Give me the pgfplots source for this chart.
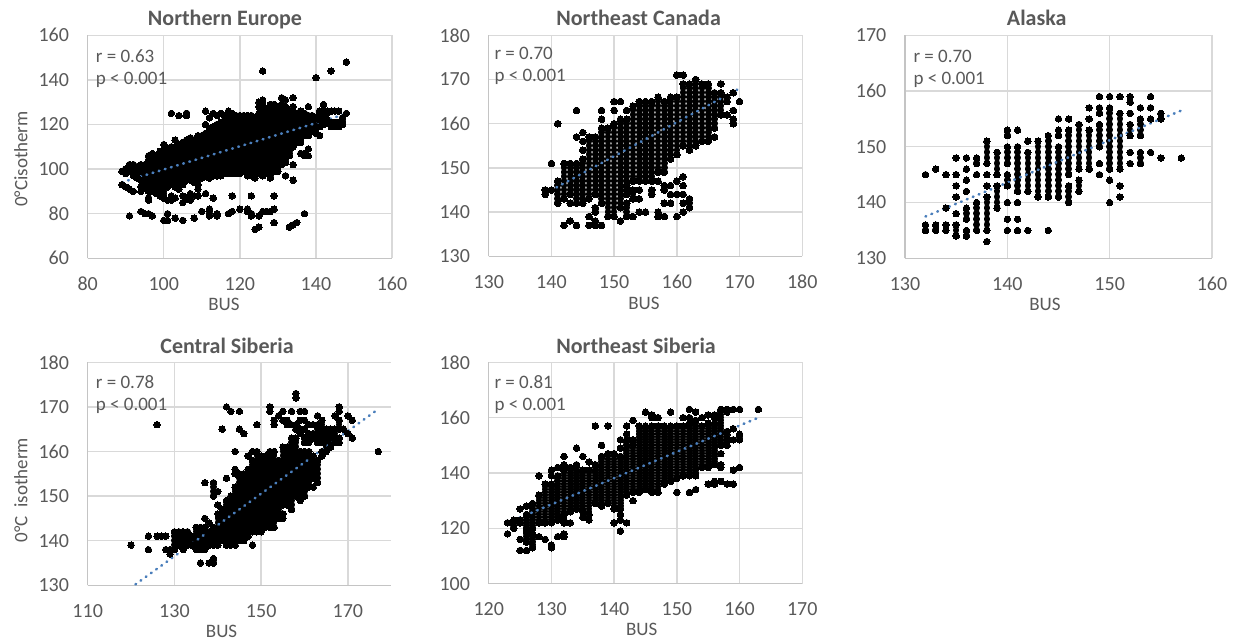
\documentclass[border=0pt]{standalone}
\usepackage{fontspec}
\setmainfont{Carlito}
\usepackage{pgfplots}
\usepackage{pgfplotstable}
\pgfplotsset{compat=1.18}
\definecolor{tx}{HTML}{595959}
\definecolor{gr}{HTML}{D9D9D9}
\definecolor{ax}{HTML}{C4C4C4}
\definecolor{tr}{HTML}{4A7EBB}
% each row: x, lowest y, highest y of a run of points at whole-number y
\pgfplotstableread[row sep=\\]{x lo hi\\
89 99 99\\ 89 93 93\\ 90 98 100\\ 90 92 92\\ 91 99 102\\ 91 91 91\\ 91 79 79\\ 92 97 102\\ 92 90 90\\ 93 96 101\\ 94 95 102\\ 94 90 92\\ 94 81 81\\ 95 92 102\\ 95 80 80\\ 96 106 106\\ 96 90 104\\ 96 86 87\\ 96 80 80\\ 97 107 107\\ 97 90 104\\ 97 79 79\\ 98 91 106\\ 98 89 89\\ 99 88 108\\ 100 87 111\\ 100 77 77\\ 101 92 109\\ 101 86 86\\ 101 80 80\\ 101 77 77\\ 102 125 125\\ 102 93 110\\ 102 88 88\\ 102 86 86\\ 103 113 113\\ 103 92 110\\ 103 87 87\\ 103 78 78\\ 104 124 124\\ 104 91 111\\ 105 93 112\\ 105 88 88\\ 105 85 85\\ 105 77 77\\ 106 124 125\\ 106 95 113\\ 106 87 87\\ 107 95 114\\ 107 89 89\\ 107 86 86\\ 108 94 113\\ 108 88 88\\ 108 78 78\\ 109 93 115\\ 109 91 91\\ 109 88 88\\ 110 96 115\\ 110 81 81\\
111 126 126\\ 111 120 120\\ 111 97 116\\ 111 89 89\\ 112 123 123\\ 112 96 118\\ 112 79 82\\ 113 125 125\\ 113 97 119\\ 113 87 87\\ 114 124 124\\ 114 97 120\\ 114 79 80\\ 115 125 125\\ 115 97 121\\ 116 124 124\\ 116 98 122\\ 117 126 126\\ 117 98 123\\ 117 80 80\\ 118 125 125\\ 118 98 123\\ 118 88 88\\ 118 81 81\\ 119 98 124\\ 120 98 124\\ 120 82 82\\ 121 99 124\\ 122 97 124\\ 122 81 82\\ 123 97 124\\ 123 88 88\\ 123 79 80\\ 124 96 123\\ 124 73 73\\ 125 130 130\\ 125 128 128\\ 125 98 125\\ 125 79 79\\ 125 74 74\\ 126 144 144\\ 126 131 131\\ 126 129 129\\ 126 97 126\\ 126 81 81\\ 127 98 127\\ 127 81 81\\ 128 129 129\\ 128 96 127\\ 128 81 81\\ 129 99 129\\ 129 88 88\\ 129 82 82\\ 129 76 76\\ 130 99 128\\ 131 132 132\\ 131 102 129\\ 132 131 131\\ 132 103 128\\ 132 97 97\\ 133 106 126\\ 133 74 74\\ 134 132 132\\ 134 128 128\\ 134 110 126\\ 134 102 102\\ 134 95 95\\ 134 75 75\\ 135 112 125\\ 135 76 76\\ 136 112 126\\ 136 107 107\\ 137 115 125\\ 137 106 107\\ 137 80 80\\ 138 128 128\\ 138 115 124\\ 138 109 109\\ 138 106 106\\ 139 117 124\\ 140 141 141\\ 140 118 123\\ 140 116 116\\ 141 119 122\\ 141 125 126\\ 141 115 115\\ 142 129 129\\ 142 125 126\\ 142 120 122\\ 143 125 126\\ 143 121 122\\ 144 144 144\\ 144 126 126\\ 144 119 121\\ 145 126 126\\ 145 119 121\\ 146 126 126\\ 146 119 121\\ 147 120 123\\ 148 148 148\\ 148 125 125\\
}\tabA
\pgfplotstableread[row sep=\\]{x lo hi\\
139 144 145\\ 140 151 151\\ 140 145 145\\ 141 160 160\\ 141 142 147\\ 142 143 151\\ 142 137 137\\ 143 144 151\\ 143 142 142\\ 143 138 138\\ 144 163 163\\ 144 157 157\\ 144 142 151\\ 144 137 137\\ 145 158 158\\ 145 156 156\\ 145 154 154\\ 145 142 152\\ 146 143 157\\ 146 139 139\\ 146 137 137\\ 147 144 157\\ 147 140 141\\ 147 137 138\\ 148 163 163\\ 148 161 161\\ 148 142 159\\ 148 137 137\\ 149 139 159\\ 150 165 165\\ 150 163 163\\ 150 139 160\\ 151 165 165\\ 151 141 161\\ 151 138 138\\ 152 163 163\\ 152 146 161\\ 152 144 145\\ 152 139 142\\ 153 147 164\\ 153 143 145\\ 153 139 139\\ 154 147 165\\ 154 145 145\\ 154 143 143\\ 154 140 140\\ 155 147 165\\ 155 140 140\\ 156 147 165\\ 156 144 145\\ 157 149 166\\ 157 147 147\\ 157 139 140\\ 158 149 165\\ 158 145 146\\ 158 142 142\\ 158 139 139\\ 159 152 166\\ 159 146 146\\ 159 144 144\\ 159 142 142\\ 160 171 171\\ 160 153 166\\ 160 147 147\\ 160 144 144\\ 160 139 139\\ 161 171 171\\ 161 155 169\\ 161 148 148\\ 161 146 146\\ 161 144 144\\ 161 142 142\\ 161 140 140\\ 162 154 169\\ 162 141 143\\ 163 155 170\\ 164 156 169\\ 165 156 169\\ 166 159 167\\ 166 157 157\\ 167 162 167\\ 167 169 169\\ 168 165 166\\ 168 162 162\\ 169 167 167\\ 169 163 163\\ 169 160 161\\ 170 165 165\\
}\tabB
\pgfplotstableread[row sep=\\]{x lo hi\\
132 145 145\\ 132 135 136\\ 133 146 146\\ 133 135 136\\ 134 145 145\\ 134 139 139\\ 134 135 136\\ 135 148 148\\ 135 145 145\\ 135 143 143\\ 135 141 141\\ 135 138 138\\ 135 134 136\\ 136 148 148\\ 136 146 146\\ 136 144 144\\ 136 142 142\\ 136 137 139\\ 136 134 135\\ 137 147 148\\ 137 145 145\\ 137 135 140\\ 138 147 151\\ 138 145 145\\ 138 143 143\\ 138 135 141\\ 138 133 133\\ 139 145 149\\ 139 139 143\\ 140 152 153\\ 140 147 150\\ 140 143 145\\ 140 140 140\\ 140 137 137\\ 140 135 135\\ 141 153 153\\ 141 142 150\\ 141 140 140\\ 141 137 137\\ 141 135 135\\ 142 151 151\\ 142 142 149\\ 142 135 135\\ 143 141 151\\ 144 141 152\\ 144 135 135\\ 145 155 155\\ 145 152 153\\ 145 141 150\\ 146 155 155\\ 146 145 153\\ 146 140 143\\ 147 146 154\\ 147 142 144\\ 148 157 157\\ 148 155 155\\ 148 146 153\\ 149 159 159\\ 149 156 157\\ 149 150 154\\ 149 147 147\\ 149 145 145\\ 150 159 159\\ 150 146 157\\ 150 144 144\\ 150 140 140\\ 151 159 159\\ 151 146 156\\ 151 143 143\\ 151 141 141\\ 152 158 159\\ 152 156 156\\ 152 152 154\\ 152 149 149\\ 152 147 147\\ 153 157 157\\ 153 152 155\\ 153 147 149\\ 154 159 159\\ 154 157 157\\ 154 155 155\\ 154 149 149\\ 155 155 156\\ 155 148 148\\ 157 148 148\\
}\tabC
\pgfplotstableread[row sep=\\]{x lo hi\\
120 139 139\\ 124 141 141\\ 124 138 138\\ 126 166 166\\ 126 141 141\\ 127 141 141\\ 128 141 141\\ 128 138 138\\ 129 137 138\\ 130 138 142\\ 131 139 142\\ 132 138 142\\ 133 139 142\\ 134 139 141\\ 135 138 143\\ 136 138 143\\ 136 135 135\\ 137 153 153\\ 137 145 145\\ 137 138 143\\ 138 144 144\\ 138 139 142\\ 138 135 135\\ 139 150 153\\ 139 139 143\\ 139 135 136\\ 140 151 151\\ 140 148 148\\ 140 139 146\\ 141 165 165\\ 141 140 147\\ 142 170 170\\ 142 154 154\\ 142 139 149\\ 143 169 169\\ 143 139 150\\ 144 160 160\\ 144 155 156\\ 144 139 152\\ 145 169 169\\ 145 165 165\\ 145 140 155\\ 146 164 164\\ 146 140 155\\ 147 159 159\\ 147 141 156\\ 148 160 160\\ 148 142 158\\ 148 139 139\\ 149 166 166\\ 149 142 160\\ 150 142 159\\ 151 143 159\\ 152 169 170\\ 152 143 160\\ 153 166 167\\ 153 143 160\\ 154 168 168\\ 154 145 158\\ 155 169 169\\ 155 167 167\\ 155 148 161\\ 155 145 146\\ 156 166 167\\ 156 148 161\\ 157 169 169\\ 157 166 166\\ 157 147 163\\ 158 172 173\\ 158 165 166\\ 158 150 163\\ 159 169 169\\ 159 167 167\\ 159 164 165\\ 159 149 160\\ 160 169 169\\ 160 167 167\\ 160 165 165\\ 160 162 163\\ 160 150 160\\ 161 166 166\\ 161 162 164\\ 161 152 160\\ 162 166 166\\ 162 163 164\\ 162 154 159\\ 162 152 152\\ 163 168 168\\ 163 162 166\\ 163 153 158\\ 164 162 167\\ 164 159 160\\ 165 160 165\\ 166 161 165\\ 167 168 168\\ 167 162 165\\ 168 169 170\\ 168 165 167\\ 168 162 163\\ 169 165 165\\ 170 168 168\\ 170 164 164\\ 171 167 167\\ 171 163 163\\ 177 160 160\\
}\tabD
\pgfplotstableread[row sep=\\]{x lo hi\\
123 122 122\\ 123 118 118\\ 124 120 123\\ 125 127 127\\ 125 122 123\\ 125 116 116\\ 125 112 112\\ 126 128 128\\ 126 120 125\\ 126 115 119\\ 126 112 112\\ 127 120 129\\ 127 113 118\\ 128 139 139\\ 128 122 132\\ 128 117 117\\ 129 122 136\\ 129 116 116\\ 130 141 141\\ 130 139 139\\ 130 122 136\\ 130 113 114\\ 131 142 142\\ 131 123 139\\ 131 117 117\\ 132 146 146\\ 132 143 143\\ 132 125 141\\ 132 122 123\\ 132 117 118\\ 133 126 142\\ 133 122 122\\ 134 149 149\\ 134 127 143\\ 135 146 146\\ 135 126 141\\ 135 124 124\\ 136 144 144\\ 136 125 141\\ 136 123 123\\ 137 157 157\\ 137 129 143\\ 138 150 150\\ 138 128 146\\ 139 157 157\\ 139 129 147\\ 140 127 147\\ 140 122 122\\ 141 152 152\\ 141 149 149\\ 141 127 146\\ 141 125 125\\ 141 123 123\\ 141 119 119\\ 142 157 157\\ 142 154 154\\ 142 132 152\\ 142 122 122\\ 143 159 159\\ 143 152 152\\ 143 133 150\\ 143 130 130\\ 144 133 157\\ 145 162 162\\ 145 134 157\\ 146 160 161\\ 146 133 157\\ 147 160 160\\ 147 133 157\\ 148 136 157\\ 149 162 162\\ 149 137 157\\ 150 138 157\\ 150 133 133\\ 151 160 160\\ 151 139 157\\ 152 163 163\\ 152 160 160\\ 152 139 158\\ 152 133 133\\ 153 162 162\\ 153 139 159\\ 153 134 134\\ 154 160 160\\ 154 142 157\\ 155 161 161\\ 155 142 158\\ 155 136 136\\ 156 160 161\\ 156 143 158\\ 156 136 137\\ 157 150 163\\ 157 147 147\\ 157 142 143\\ 157 137 137\\ 158 162 163\\ 158 154 155\\ 158 152 152\\ 158 150 150\\ 158 136 136\\ 159 163 163\\ 159 156 156\\ 159 152 152\\ 159 141 141\\ 159 136 136\\ 160 163 163\\ 160 152 154\\ 160 142 142\\ 163 163 163\\
}\tabE
% #1 table, #2 one y unit in pt, #3 dot diameter in pt
\newcommand{\scat}[3]{\addplot[only marks,mark=*,mark size=#3/2*1pt,color=black,mark options={line width=0pt,fill=black}]
  table[x=x,y=hi]{#1};
  \addplot[only marks,mark=*,mark size=#3/2*1pt,color=black,mark options={line width=0pt,fill=black},
  restrict expr to domain={\thisrow{hi}-\thisrow{lo}}{0.5:1000},
  error bars/.cd,y dir=plus,y explicit,error mark=none,
  error bar style={color=black,solid,line width=#3pt,line cap=round,dash pattern=on 0.5pt off #2pt-0.5pt}]
  table[x=x,y=lo,y error plus expr=\thisrow{hi}-\thisrow{lo}]{#1};}
\newcommand{\trend}[1]{\addplot[color=tr,line width=2.6pt,line cap=round,dash pattern=on 0.8pt off 5.6pt] coordinates {#1};}
\pgfplotsset{
  panel/.style={scale only axis,anchor=south west,
    axis x line*=bottom,axis y line*=left,
    axis line style={color=ax,line width=1.3pt,-},
    grid=major,grid style={color=gr,line width=1.4pt},
    major tick length=0pt,
    /pgf/number format/assume math mode=true,
    /pgf/number format/1000 sep={},
    tick label style={font=\fontsize{20}{24}\selectfont,color=tx},
    x tick label style={anchor=center,inner sep=0pt,yshift=-25.5pt},
    y tick label style={anchor=east,inner sep=0pt,xshift=-18.5pt},
    label style={font=\fontsize{19}{22}\selectfont,color=tx},
    title style={font=\fontsize{22}{26}\selectfont\bfseries,color=tx,anchor=base,yshift=-7.5pt},
    xlabel={BUS},
  },
}
\tikzset{note/.style={anchor=west,inner sep=0pt,font=\fontsize{19}{22}\selectfont,color=tx}}
\begin{document}
\begin{tikzpicture}
\path[use as bounding box] (0pt,0pt) rectangle (1242pt,640pt);
\begin{axis}[panel,at={(87.7pt,381.7pt)},width=304.3pt,height=223pt,
  xmin=80,xmax=160,ymin=60,ymax=160,xtick={80,100,120,140,160},ytick={60,80,100,120,140,160},
  title={Northern Europe},title style={at={(0.451,1.0507)}},
  xlabel style={at={(axis description cs:0.448,-0.209)},anchor=center},
  ylabel={0°Cisotherm},ylabel style={at={(axis description cs:-0.22,0.445)},anchor=center,rotate=0}]
\scat{\tabA}{2.23}{6.5}
\trend{(89,94.1)(148,124.8)}
\end{axis}
\begin{axis}[panel,at={(488.7pt,383.7pt)},width=313.6pt,height=221pt,
  xmin=130,xmax=180,ymin=130,ymax=180,xtick={130,140,150,160,170,180},ytick={130,140,150,160,170,180},
  title={Northeast Canada},title style={at={(0.478,1.0511)}},
  xlabel style={at={(axis description cs:0.495,-0.213)},anchor=center}]
\scat{\tabB}{4.42}{6.7}
\trend{(139,144.2)(170,168)}
\end{axis}
\begin{axis}[panel,at={(905pt,381.7pt)},width=307pt,height=223pt,
  xmin=130,xmax=160,ymin=130,ymax=170,xtick={130,140,150,160},ytick={130,140,150,160,170},
  title={Alaska},title style={at={(0.429,1.0507)}},
  xlabel style={at={(axis description cs:0.456,-0.209)},anchor=center}]
\scat{\tabC}{5.575}{6.5}
\trend{(132,137.5)(157,156.5)}
\end{axis}
\begin{axis}[panel,at={(87.7pt,54.7pt)},width=303.6pt,height=223pt,
  xmin=110,xmax=180,ymin=130,ymax=180,xtick={110,130,150,170},ytick={130,140,150,160,170,180},
  title={Central Siberia},title style={at={(0.459,1.0475)}},
  xlabel style={at={(axis description cs:0.441,-0.206)},anchor=center},
  ylabel={0°C~~isotherm},ylabel style={at={(axis description cs:-0.22,0.427)},anchor=center,rotate=0}]
\scat{\tabD}{4.46}{6.5}
\trend{(121,130.2)(177,169.5)}
\end{axis}
\begin{axis}[panel,at={(488.7pt,56.3pt)},width=313.6pt,height=221.4pt,
  xmin=120,xmax=170,ymin=100,ymax=180,xtick={120,130,140,150,160,170},ytick={100,120,140,160,180},
  title={Northeast Siberia},title style={at={(0.470,1.0479)}},
  xlabel style={at={(axis description cs:0.488,-0.208)},anchor=center}]
\scat{\tabE}{2.771}{6.6}
\trend{(123,122)(163,160)}
\end{axis}
\node[note] at (95.7pt,584.3pt) {r = 0.63};
\node[note] at (95.7pt,560pt) {p < 0.001};
\node[note] at (494.3pt,587pt) {r = 0.70};
\node[note] at (494.3pt,563pt) {p < 0.001};
\node[note] at (913.3pt,584pt) {r = 0.70};
\node[note] at (913.3pt,560pt) {p < 0.001};
\node[note] at (95.7pt,258.3pt) {r = 0.78};
\node[note] at (95.7pt,234.3pt) {p < 0.001};
\node[note] at (494.3pt,258.3pt) {r = 0.81};
\node[note] at (494.3pt,234.3pt) {p < 0.001};
\end{tikzpicture}
\end{document}
